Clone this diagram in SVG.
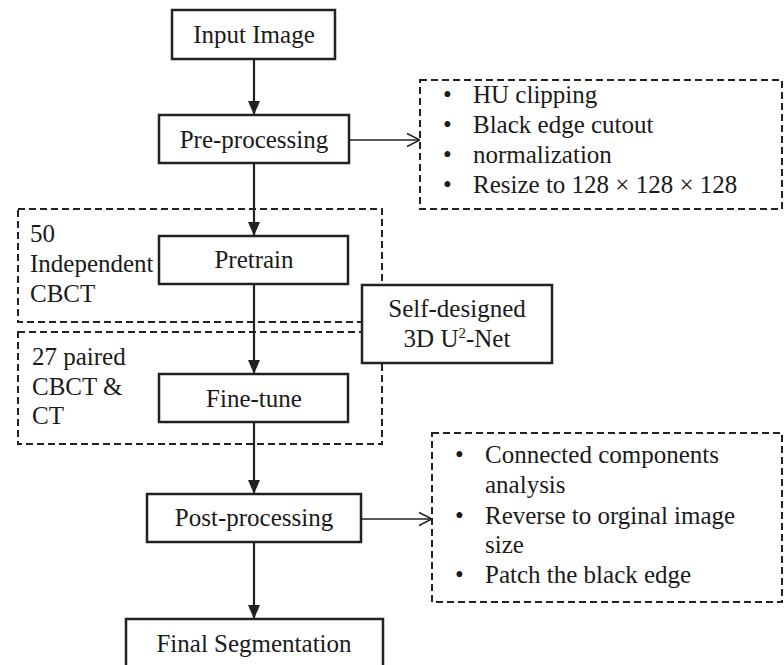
<svg xmlns="http://www.w3.org/2000/svg" width="784" height="665" viewBox="0 0 784 665">
  <defs>
    <marker id="solid" markerWidth="14" markerHeight="14" refX="14" refY="7" orient="auto" markerUnits="userSpaceOnUse">
      <path d="M0,1 L14,7 L0,13 Z" fill="#222"/>
    </marker>
    <marker id="open" markerWidth="16" markerHeight="16" refX="14" refY="8" orient="auto" markerUnits="userSpaceOnUse">
      <path d="M1,1.5 L14,8 L1,14.5" fill="none" stroke="#222" stroke-width="1.4"/>
    </marker>
  </defs>
  <style>
    .box { fill: #fff; stroke: #222; stroke-width: 2.5; }
    .group { fill: none; stroke: #222; stroke-width: 2; stroke-dasharray: 7 4; }
    .note { fill: #fff; stroke: #222; stroke-width: 2; stroke-dasharray: 7 4; }
    text { font-family: "Liberation Serif", "Times New Roman", serif; font-size: 25px; fill: #1a1a1a; }
    .c { text-anchor: middle; }
    .flow { stroke: #222; stroke-width: 2.2; fill: none; marker-end: url(#solid); }
    .side { stroke: #222; stroke-width: 1.4; fill: none; marker-end: url(#open); }
  </style>

  <!-- training stage groupings -->
  <g id="group-pretrain">
    <rect class="group" x="18" y="209" width="364" height="113"/>
    <text x="30" y="242">50</text>
    <text x="30" y="272">Independent</text>
    <text x="30" y="302">CBCT</text>
  </g>
  <g id="group-finetune">
    <rect class="group" x="18" y="332" width="364" height="112"/>
    <text x="32" y="365">27 paired</text>
    <text x="32" y="395">CBCT &amp;</text>
    <text x="32" y="424">CT</text>
  </g>

  <!-- connectors -->
  <g id="connectors">
    <line class="flow" x1="254" y1="59" x2="254" y2="115"/>
    <line class="flow" x1="254" y1="163" x2="254" y2="236"/>
    <line class="flow" x1="254" y1="284" x2="254" y2="374"/>
    <line class="flow" x1="254" y1="422" x2="254" y2="494"/>
    <line class="flow" x1="254" y1="542" x2="254" y2="619"/>
    <line class="side" x1="349" y1="140" x2="420" y2="140"/>
    <line class="side" x1="361" y1="519" x2="432" y2="519"/>
  </g>

  <!-- main pipeline nodes -->
  <g id="input-image">
    <rect class="box" x="172" y="10" width="163" height="49"/>
    <text class="c" x="254" y="43">Input Image</text>
  </g>
  <g id="pre-processing">
    <rect class="box" x="159" y="115" width="190" height="48"/>
    <text class="c" x="254" y="148">Pre-processing</text>
  </g>
  <g id="pretrain">
    <rect class="box" x="159" y="236" width="189" height="48"/>
    <text class="c" x="254" y="268">Pretrain</text>
  </g>
  <g id="fine-tune">
    <rect class="box" x="159" y="374" width="189" height="48"/>
    <text class="c" x="254" y="407">Fine-tune</text>
  </g>
  <g id="post-processing">
    <rect class="box" x="147" y="494" width="214" height="48"/>
    <text class="c" x="254" y="526">Post-processing</text>
  </g>
  <g id="final-segmentation">
    <rect class="box" x="126" y="619" width="257" height="60"/>
    <text class="c" x="254" y="652">Final Segmentation</text>
  </g>

  <!-- network -->
  <g id="network">
    <rect class="box" x="362" y="285" width="190" height="78"/>
    <text class="c" x="457" y="317">Self-designed</text>
    <text class="c" x="457" y="347">3D U<tspan font-size="15" dy="-9">2</tspan><tspan dy="9">-Net</tspan></text>
  </g>

  <!-- step notes -->
  <g id="pre-processing-steps">
    <rect class="note" x="420" y="80" width="362" height="129"/>
    <text x="443" y="103">•</text><text x="473" y="103">HU clipping</text>
    <text x="443" y="133">•</text><text x="473" y="133">Black edge cutout</text>
    <text x="443" y="163">•</text><text x="473" y="163">normalization</text>
    <text x="443" y="193">•</text><text x="473" y="193">Resize to 128 × 128 × 128</text>
  </g>
  <g id="post-processing-steps">
    <rect class="note" x="432" y="433" width="350" height="169"/>
    <text x="455" y="463">•</text><text x="485" y="463">Connected components</text>
    <text x="485" y="493">analysis</text>
    <text x="455" y="524">•</text><text x="485" y="524">Reverse to orginal image</text>
    <text x="485" y="553">size</text>
    <text x="455" y="583">•</text><text x="485" y="583">Patch the black edge</text>
  </g>
</svg>
